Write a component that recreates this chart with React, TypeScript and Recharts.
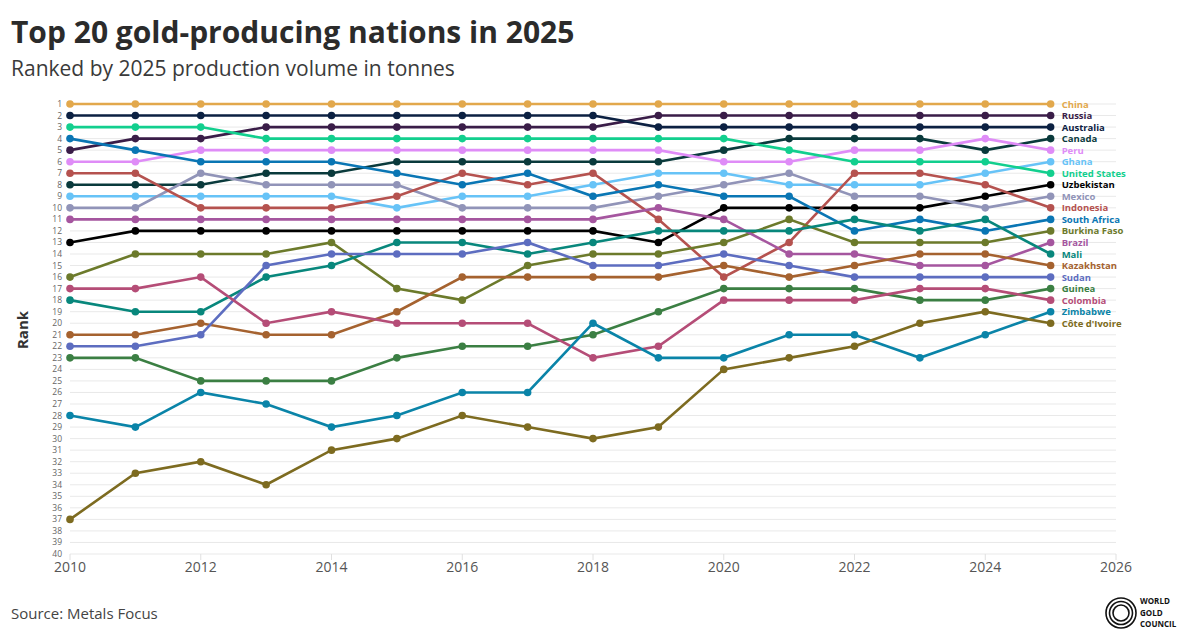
import { LineChart, Line, XAxis, YAxis, CartesianGrid, LabelList } from 'recharts'

const years = [2010, 2011, 2012, 2013, 2014, 2015, 2016, 2017, 2018, 2019, 2020, 2021, 2022, 2023, 2024, 2025]

// rank per year, 2010..2025
const china = [1, 1, 1, 1, 1, 1, 1, 1, 1, 1, 1, 1, 1, 1, 1, 1]
const russia = [5, 4, 4, 3, 3, 3, 3, 3, 3, 2, 2, 2, 2, 2, 2, 2]
const australia = [2, 2, 2, 2, 2, 2, 2, 2, 2, 3, 3, 3, 3, 3, 3, 3]
const canada = [8, 8, 8, 7, 7, 6, 6, 6, 6, 6, 5, 4, 4, 4, 5, 4]
const peru = [6, 6, 5, 5, 5, 5, 5, 5, 5, 5, 6, 6, 5, 5, 4, 5]
const ghana = [9, 9, 9, 9, 9, 10, 9, 9, 8, 7, 7, 8, 8, 8, 7, 6]
const unitedStates = [3, 3, 3, 4, 4, 4, 4, 4, 4, 4, 4, 5, 6, 6, 6, 7]
const uzbekistan = [13, 12, 12, 12, 12, 12, 12, 12, 12, 13, 10, 10, 10, 10, 9, 8]
const mexico = [10, 10, 7, 8, 8, 8, 10, 10, 10, 9, 8, 7, 9, 9, 10, 9]
const indonesia = [7, 7, 10, 10, 10, 9, 7, 8, 7, 11, 16, 13, 7, 7, 8, 10]
const southAfrica = [4, 5, 6, 6, 6, 7, 8, 7, 9, 8, 9, 9, 12, 11, 12, 11]
const burkinaFaso = [16, 14, 14, 14, 13, 17, 18, 15, 14, 14, 13, 11, 13, 13, 13, 12]
const brazil = [11, 11, 11, 11, 11, 11, 11, 11, 11, 10, 11, 14, 14, 15, 15, 13]
const mali = [18, 19, 19, 16, 15, 13, 13, 14, 13, 12, 12, 12, 11, 12, 11, 14]
const kazakhstan = [21, 21, 20, 21, 21, 19, 16, 16, 16, 16, 15, 16, 15, 14, 14, 15]
const sudan = [22, 22, 21, 15, 14, 14, 14, 13, 15, 15, 14, 15, 16, 16, 16, 16]
const guinea = [23, 23, 25, 25, 25, 23, 22, 22, 21, 19, 17, 17, 17, 18, 18, 17]
const colombia = [17, 17, 16, 20, 19, 20, 20, 20, 23, 22, 18, 18, 18, 17, 17, 18]
const zimbabwe = [28, 29, 26, 27, 29, 28, 26, 26, 20, 23, 23, 21, 21, 23, 21, 19]
const coteDIvoire = [37, 33, 32, 34, 31, 30, 28, 29, 30, 29, 24, 23, 22, 20, 19, 20]

const rankTicks = [1, 2, 3, 4, 5, 6, 7, 8, 9, 10, 11, 12, 13, 14, 15, 16, 17, 18, 19, 20, 21, 22, 23, 24, 25, 26, 27, 28, 29, 30, 31, 32, 33, 34, 35, 36, 37, 38, 39, 40]
const yearTicks = [2010, 2012, 2014, 2016, 2018, 2020, 2022, 2024, 2026]

const countries = [
  { name: 'China', color: '#e2a84c', ranks: china },
  { name: 'Russia', color: '#3a1d48', ranks: russia },
  { name: 'Australia', color: '#0c2142', ranks: australia },
  { name: 'Canada', color: '#0a3a3c', ranks: canada },
  { name: 'Peru', color: '#df8cf7', ranks: peru },
  { name: 'Ghana', color: '#67c3f7', ranks: ghana },
  { name: 'United States', color: '#12cf8e', ranks: unitedStates },
  { name: 'Uzbekistan', color: '#000000', ranks: uzbekistan },
  { name: 'Mexico', color: '#9194b8', ranks: mexico },
  { name: 'Indonesia', color: '#b5524f', ranks: indonesia },
  { name: 'South Africa', color: '#0a76b4', ranks: southAfrica },
  { name: 'Burkina Faso', color: '#6c7a2b', ranks: burkinaFaso },
  { name: 'Brazil', color: '#a5569f', ranks: brazil },
  { name: 'Mali', color: '#08877c', ranks: mali },
  { name: 'Kazakhstan', color: '#a5622f', ranks: kazakhstan },
  { name: 'Sudan', color: '#5d6dc0', ranks: sudan },
  { name: 'Guinea', color: '#3b7f43', ranks: guinea },
  { name: 'Colombia', color: '#b54d77', ranks: colombia },
  { name: 'Zimbabwe', color: '#0a84a8', ranks: zimbabwe },
  { name: "Côte d'Ivoire", color: '#7d6b20', ranks: coteDIvoire },
]

const data = years.map((year, i) => {
  const row: Record<string, number> = { year }
  countries.forEach((c) => {
    row[c.name] = c.ranks[i]
  })
  return row
})

const font = "'Open Sans', 'Noto Sans', sans-serif"

export default function App() {
  const last = years.length - 1
  return (
    <div style={{ position: 'absolute', left: 0, top: 0, width: 1200, height: 643, background: '#fff', fontFamily: font }}>
      <div style={{ position: 'absolute', left: 11, top: 11, fontSize: 30, fontWeight: 700, color: '#2b2b2b', whiteSpace: 'nowrap' }}>
        Top 20 gold-producing nations in 2025
      </div>
      <div style={{ position: 'absolute', left: 11, top: 54, fontSize: 21, color: '#3a3a3a', whiteSpace: 'nowrap' }}>
        Ranked by 2025 production volume in tonnes
      </div>
      <LineChart width={1200} height={643} data={data} margin={{ top: 104, right: 84, bottom: 59, left: 50 }} style={{ position: 'absolute', left: 0, top: 0 }}>
        <CartesianGrid vertical={false} stroke="#e9e9e9" />
        <XAxis
          dataKey="year"
          type="number"
          domain={[2010, 2026]}
          ticks={yearTicks}
          height={30}
          axisLine={false}
          tickLine={{ stroke: '#e0e0e0' }}
          tick={{ fill: '#555', fontSize: 14, fontFamily: font }}
        />
        <YAxis
          type="number"
          domain={[1, 40]}
          reversed
          ticks={rankTicks}
          interval={0}
          width={20}
          axisLine={false}
          tickLine={false}
          tick={{ fill: '#666', fontSize: 8.5, fontFamily: font }}
        />
        {countries.map((c) => (
          <Line
            key={c.name}
            dataKey={c.name}
            stroke={c.color}
            strokeWidth={2.6}
            dot={{ r: 3.8, fill: c.color, stroke: c.color, strokeWidth: 0 }}
            activeDot={false}
            isAnimationActive={false}
          >
            <LabelList
              dataKey={c.name}
              content={(p: any) =>
                p.index === last ? (
                  <text x={p.x + 11} y={p.y} dy={3.5} fill={c.color} fontSize={9.5} fontWeight={700} fontFamily={font}>
                    {c.name}
                  </text>
                ) : null
              }
            />
          </Line>
        ))}
      </LineChart>
      <div style={{ position: 'absolute', left: 22, top: 330, transform: 'translate(-50%, -50%) rotate(-90deg)', fontSize: 15, fontWeight: 700, color: '#333' }}>
        Rank
      </div>
      <div style={{ position: 'absolute', left: 11, top: 603, fontSize: 15, color: '#444' }}>Source: Metals Focus</div>
      <svg width={90} height={42} style={{ position: 'absolute', left: 1104, top: 593 }}>
        <circle cx={17} cy={20} r={15} fill="none" stroke="#111" strokeWidth={1.6} />
        <circle cx={17} cy={20} r={11.5} fill="none" stroke="#111" strokeWidth={1.6} />
        <circle cx={17} cy={20} r={8} fill="none" stroke="#111" strokeWidth={1.6} />
        <text x={36} y={11} fontSize={8} fontWeight={700} fill="#111" fontFamily={font}>WORLD</text>
        <text x={36} y={22.5} fontSize={8} fontWeight={700} fill="#111" fontFamily={font}>GOLD</text>
        <text x={36} y={34} fontSize={8} fontWeight={700} fill="#111" fontFamily={font}>COUNCIL</text>
      </svg>
    </div>
  )
}
